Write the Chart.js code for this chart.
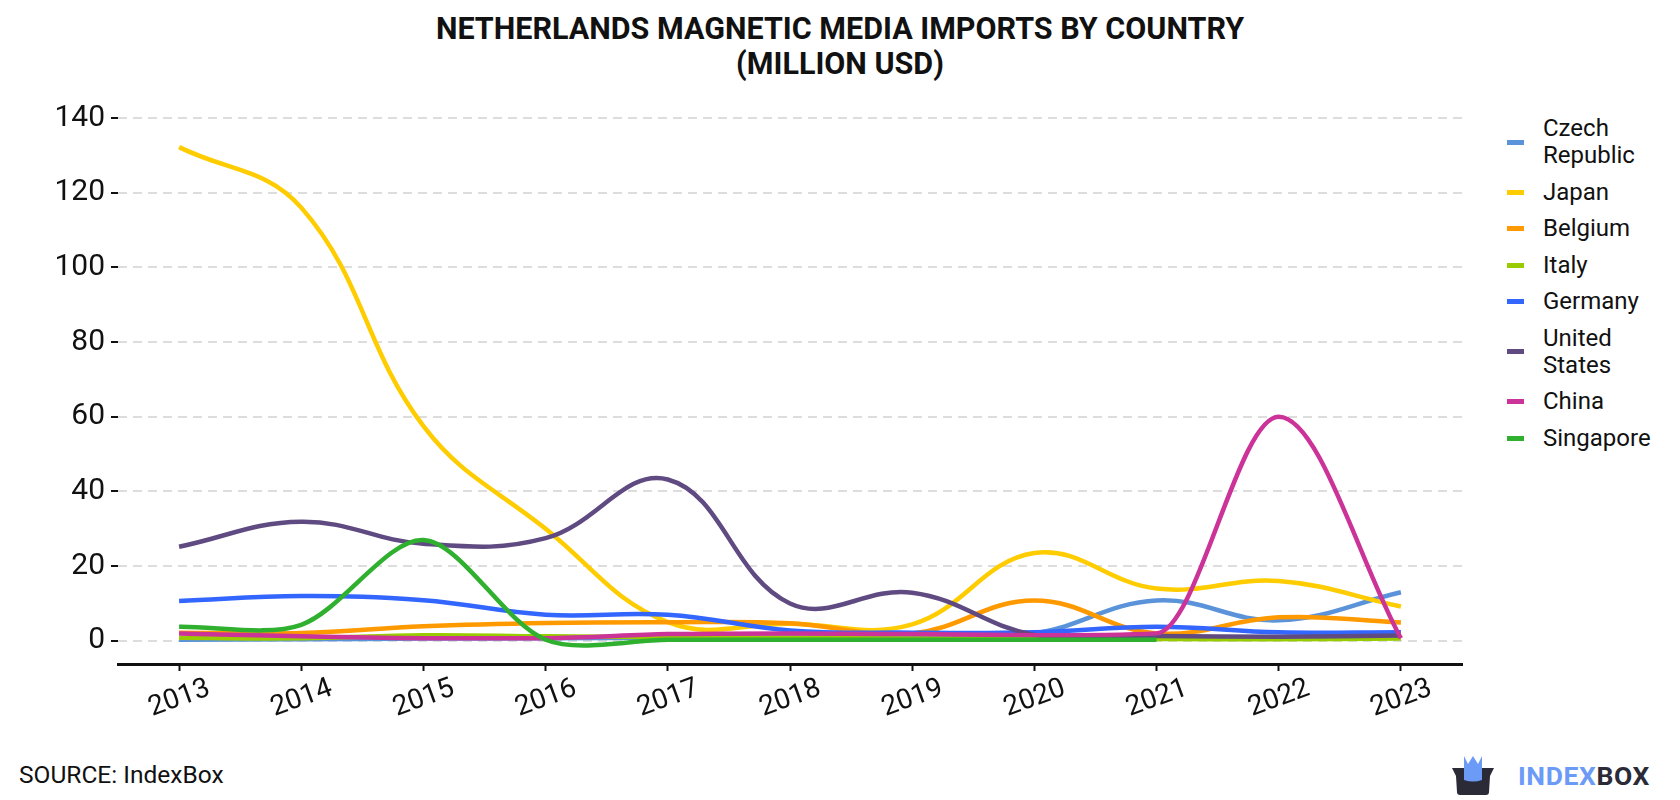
<!DOCTYPE html>
<html>
<head>
    <title>Netherlands Magnetic Media Imports by Country</title>
    <script src="https://cdn.jsdelivr.net/npm/chart.js"></script>
    <style>
        * {
            box-sizing: border-box;
            margin: 0;
            padding: 0;
        }

        body {
            width: 1680px;
            height: 800px;
            background: #ffffff;
            font-family: Roboto, sans-serif;
            color: #111111;
            position: relative;
            overflow: hidden;
        }

        .title {
            position: absolute;
            top: 11px;
            left: 0;
            width: 1680px;
            text-align: center;
            font-weight: 700;
            font-size: 30.5px;
            line-height: 35px;
        }

        #chartBox {
            position: absolute;
            left: 0;
            top: 0;
        }

        .legend {
            position: absolute;
            left: 1507px;
            top: 115px;
        }

        .legend-item {
            display: flex;
            align-items: center;
            margin-bottom: 9.5px;
        }

        .legend-item .mark {
            width: 17px;
            height: 5px;
            margin-right: 19px;
        }

        .legend-item .label {
            font-size: 24px;
            line-height: 27px;
        }

        .source {
            position: absolute;
            left: 19px;
            top: 760px;
            font-size: 24.5px;
        }

        .logo {
            position: absolute;
            left: 1450px;
            top: 754px;
            display: flex;
            align-items: center;
        }

        .logo span {
            font-weight: 700;
            font-size: 26.5px;
            letter-spacing: 0.6px;
        }
    </style>
</head>
<body>
    <div class="title">NETHERLANDS MAGNETIC MEDIA IMPORTS BY COUNTRY<br>(MILLION USD)</div>

    <canvas id="chartBox" width="1480" height="735"></canvas>

    <div class="legend" id="legend"></div>

    <div class="source">SOURCE: IndexBox</div>

    <div class="logo">
        <svg width="46" height="42" viewBox="0 0 46 42">
            <path d="M2 14 L44 14 L40 22 L39 38 Q39 41 36 41 L10 41 Q7 41 7 38 L6 22 Z" fill="#2b2b38"/>
            <path d="M14 2 L18 10 L23 2 L28 10 L32 2 L32 26 Q23 29 14 26 Z" fill="#6b9bf7"/>
        </svg>
        <span style="margin-left: 22px;"><span style="color:#6b9bf7">INDEX</span><span style="color:#2b2b38">BOX</span></span>
    </div>

    <script>
        const years = ['2013', '2014', '2015', '2016', '2017', '2018', '2019', '2020', '2021', '2022', '2023'];

        const czechRepublic = [0.3, 0.4, 0.6, 0.7, 0.8, 0.9, 1.0, 2.0, 10.8, 5.5, 13.0];
        const japan = [132.2, 116, 57.5, 30, 5, 4.6, 4.4, 23.5, 14, 16, 9.2];
        const belgium = [2.2, 2.1, 3.9, 4.8, 5.0, 4.7, 2.0, 10.8, 2.0, 6.3, 4.9];
        const italy = [0.8, 0.7, 1.5, 1.2, 1.0, 0.8, 0.6, 0.5, 0.5, 0.4, 0.6];
        const germany = [10.7, 12.0, 10.9, 7.0, 7.0, 2.8, 2.2, 2.3, 3.8, 2.3, 2.3];
        const unitedStates = [25.2, 31.9, 26.0, 27.5, 43.2, 10.0, 12.9, 1.6, 1.3, 1.1, 1.4];
        const china = [2.0, 1.2, 0.7, 0.7, 1.8, 2.0, 1.8, 1.5, 2.0, 60.0, 0.7];
        const singapore = [3.8, 4.3, 27.0, 0.3, 0.3, 0.3, 0.3, 0.3, 0.3, null, null];

        const seriesNames = ['Czech Republic', 'Japan', 'Belgium', 'Italy', 'Germany', 'United States', 'China', 'Singapore'];
        const seriesValues = [czechRepublic, japan, belgium, italy, germany, unitedStates, china, singapore];
        const seriesColors = ['#5a93d9', '#ffcc00', '#ff9900', '#99cc00', '#3366ff', '#5f4b82', '#cc3399', '#2fb02f'];
        // china rises from a flat base, so keep it from dipping below zero
        const seriesCurve = ['default', 'default', 'default', 'default', 'default', 'default', 'monotone', 'default'];
        const seriesTension = [0.4, 0.4, 0.4, 0.4, 0.4, 0.4, 0.4, 0.3];

        const yTicks = [0, 20, 40, 60, 80, 100, 120, 140];

        // html legend, names wrap on the space like the original
        const legend = document.getElementById('legend');
        seriesNames.forEach((name, i) => {
            const item = document.createElement('div');
            item.className = 'legend-item';
            item.innerHTML = '<div class="mark" style="background:' + seriesColors[i] + '"></div>' +
                '<div class="label">' + name.split(' ').join('<br>') + '</div>';
            legend.appendChild(item);
        });

        Chart.defaults.font.family = 'Roboto, sans-serif';
        Chart.defaults.color = '#111111';

        const ctx = document.getElementById('chartBox').getContext('2d');
        new Chart(ctx, {
            type: 'line',
            data: {
                labels: years,
                datasets: seriesValues.map((vals, i) => ({
                    label: seriesNames[i],
                    data: vals,
                    borderColor: seriesColors[i],
                    backgroundColor: seriesColors[i],
                    borderWidth: 4.5,
                    pointRadius: 0,
                    fill: false,
                    tension: seriesTension[i],
                    cubicInterpolationMode: seriesCurve[i],
                    order: seriesNames.length - i
                }))
            },
            options: {
                responsive: false,
                animation: false,
                devicePixelRatio: 1,
                layout: {
                    padding: { top: 118, right: 18, left: 0, bottom: 0 }
                },
                plugins: {
                    legend: { display: false },
                    tooltip: { enabled: false }
                },
                scales: {
                    x: {
                        offset: true,
                        grid: {
                            drawOnChartArea: false,
                            tickLength: 7,
                            tickWidth: 2,
                            tickColor: '#111111'
                        },
                        border: { display: true, color: '#111111', width: 3 },
                        ticks: {
                            font: { size: 28 },
                            color: '#111111',
                            minRotation: 20,
                            maxRotation: 20,
                            padding: 1,
                            labelOffset: 30
                        },
                        afterFit: (scale) => { scale.height = 71; }
                    },
                    y: {
                        min: -6.2,
                        max: 140,
                        afterBuildTicks: (scale) => {
                            scale.ticks = yTicks.map(v => ({ value: v }));
                        },
                        grid: {
                            color: '#dddddd',
                            lineWidth: 2,
                            tickLength: 7,
                            tickWidth: 2,
                            tickColor: '#111111',
                            tickBorderDash: []
                        },
                        border: { display: false, dash: [9, 6] },
                        ticks: {
                            font: { size: 30 },
                            color: '#111111',
                            padding: 6
                        },
                        afterFit: (scale) => { scale.width = 118; }
                    }
                }
            }
        });
    </script>
</body>
</html>
